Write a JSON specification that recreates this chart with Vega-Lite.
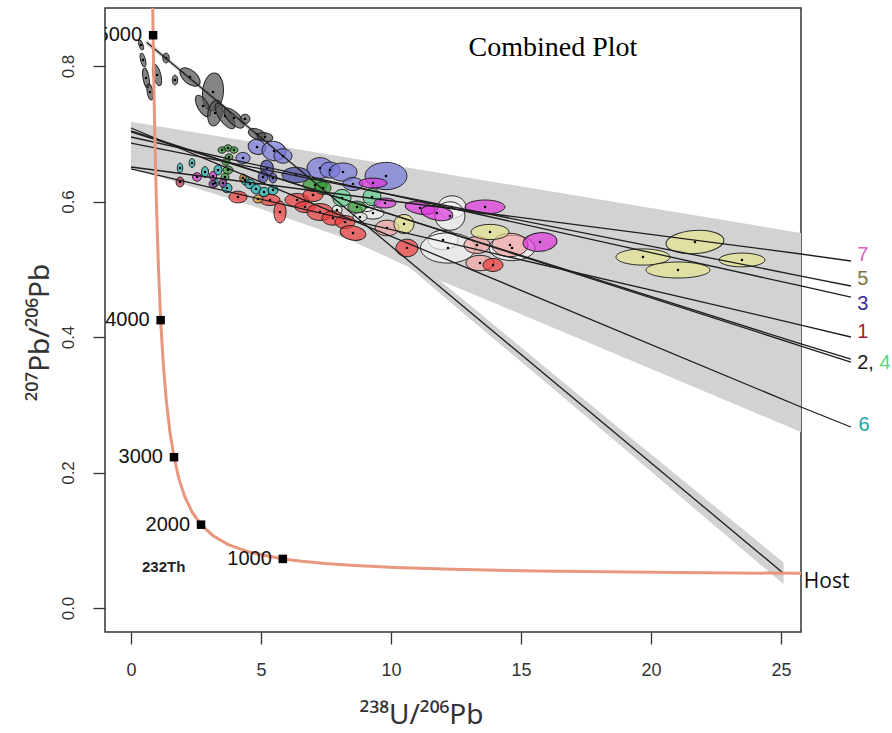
{
  "$schema": "https://vega.github.io/schema/vega-lite/v6.json",
  "autosize": "none",
  "width": 696,
  "height": 624,
  "padding": {"left": 105, "top": 8, "right": 91, "bottom": 101},
  "background": "white",
  "config": {"view": {"stroke": "#333333", "strokeWidth": 1.5}},
  "datasets": {
    "band": [
      {"x": 0, "y": 0.6494, "y2": 0.7178},
      {"x": 4.58, "y": 0.5948, "y2": 0.6886},
      {"x": 8.42, "y": 0.5432, "y2": 0.6641},
      {"x": 11.19, "y": 0.4945, "y2": 0.6465},
      {"x": 13.42, "y": 0.459, "y2": 0.6322},
      {"x": 19.19, "y": 0.3661, "y2": 0.5954},
      {"x": 25.77, "y": 0.2598, "y2": 0.5535}
    ],
    "sband": [
      {"x": 0.6, "y": 0.831, "y2": 0.839},
      {"x": 3, "y": 0.7552, "y2": 0.7612},
      {"x": 6, "y": 0.6572, "y2": 0.6672},
      {"x": 10, "y": 0.5262, "y2": 0.5422},
      {"x": 13, "y": 0.4282, "y2": 0.4482},
      {"x": 16, "y": 0.3312, "y2": 0.3532},
      {"x": 19, "y": 0.2342, "y2": 0.2582},
      {"x": 22, "y": 0.1362, "y2": 0.1642},
      {"x": 25.1, "y": 0.035, "y2": 0.067}
    ],
    "ell": [
      {"x": 7.923, "y": 0.5875, "g": "W", "s": 100, "r": "r95", "a": 0},
      {"x": 9.308, "y": 0.583, "g": "W", "s": 484, "r": "r55", "a": 0},
      {"x": 8.808, "y": 0.5771, "g": "W", "s": 196, "r": "r65", "a": 0},
      {"x": 12.346, "y": 0.5919, "g": "W", "s": 784, "r": "r8", "a": 0},
      {"x": 12.269, "y": 0.5786, "g": "W", "s": 900, "r": "r95", "a": 0},
      {"x": 12.0, "y": 0.5432, "g": "W", "s": 900, "r": "r65", "a": 0},
      {"x": 12.192, "y": 0.5314, "g": "W", "s": 3025, "r": "r55", "a": 0},
      {"x": 14.654, "y": 0.5314, "g": "W", "s": 2116, "r": "r55", "a": 0},
      {"x": 9.077, "y": 0.5919, "g": "W", "s": 196, "r": "r65", "a": 0},
      {"x": 9.846, "y": 0.5609, "g": "Pk", "s": 576, "r": "r65", "a": 0},
      {"x": 13.423, "y": 0.5092, "g": "Pk", "s": 784, "r": "r55", "a": 0},
      {"x": 14.577, "y": 0.5358, "g": "Pk", "s": 1296, "r": "r65", "a": 0},
      {"x": 13.308, "y": 0.5358, "g": "Pk", "s": 676, "r": "r65", "a": 0},
      {"x": 10.5, "y": 0.5668, "g": "Y", "s": 400, "r": "r95", "a": 0},
      {"x": 13.808, "y": 0.555, "g": "Y", "s": 1444, "r": "r4", "a": 0},
      {"x": 19.692, "y": 0.5181, "g": "Y", "s": 2916, "r": "r3", "a": 0},
      {"x": 21.038, "y": 0.4989, "g": "Y", "s": 4096, "r": "r25", "a": 0},
      {"x": 21.692, "y": 0.5402, "g": "Y", "s": 3364, "r": "r4", "a": -4},
      {"x": 23.5, "y": 0.5137, "g": "Y", "s": 2116, "r": "r3", "a": 0},
      {"x": 0.385, "y": 0.831, "g": "G", "s": 100, "r": "r4", "a": 70},
      {"x": 0.462, "y": 0.8089, "g": "G", "s": 196, "r": "r35", "a": 75},
      {"x": 0.577, "y": 0.7823, "g": "G", "s": 400, "r": "r3", "a": 80},
      {"x": 0.731, "y": 0.7616, "g": "G", "s": 256, "r": "r35", "a": 80},
      {"x": 1.0, "y": 0.7867, "g": "G", "s": 484, "r": "r35", "a": 75},
      {"x": 1.346, "y": 0.8118, "g": "G", "s": 100, "r": "r65", "a": 90},
      {"x": 1.692, "y": 0.7793, "g": "G", "s": 100, "r": "r55", "a": 90},
      {"x": 2.269, "y": 0.7838, "g": "G", "s": 576, "r": "r55", "a": 40},
      {"x": 3.154, "y": 0.7616, "g": "G", "s": 1444, "r": "r55", "a": 95},
      {"x": 2.769, "y": 0.741, "g": "G", "s": 576, "r": "r45", "a": 60},
      {"x": 3.231, "y": 0.7306, "g": "G", "s": 676, "r": "r55", "a": 100},
      {"x": 3.615, "y": 0.7262, "g": "G", "s": 900, "r": "r4", "a": 55},
      {"x": 3.962, "y": 0.7232, "g": "G", "s": 676, "r": "r45", "a": 45},
      {"x": 4.385, "y": 0.7218, "g": "G", "s": 100, "r": "r95", "a": 0},
      {"x": 4.846, "y": 0.6996, "g": "G", "s": 324, "r": "r55", "a": 20},
      {"x": 5.154, "y": 0.6952, "g": "G", "s": 256, "r": "r55", "a": 10},
      {"x": 4.308, "y": 0.6642, "g": "B", "s": 196, "r": "r8", "a": 0},
      {"x": 4.846, "y": 0.6804, "g": "B", "s": 324, "r": "r8", "a": 20},
      {"x": 5.5, "y": 0.6745, "g": "B", "s": 576, "r": "r8", "a": 10},
      {"x": 5.846, "y": 0.6672, "g": "B", "s": 324, "r": "r8", "a": 0},
      {"x": 7.269, "y": 0.6494, "g": "B", "s": 676, "r": "r8", "a": 0},
      {"x": 7.654, "y": 0.6465, "g": "B", "s": 400, "r": "r8", "a": 0},
      {"x": 8.154, "y": 0.6435, "g": "B", "s": 784, "r": "r65", "a": 0},
      {"x": 8.538, "y": 0.6258, "g": "B", "s": 400, "r": "r65", "a": 0},
      {"x": 9.808, "y": 0.6376, "g": "B", "s": 1764, "r": "r65", "a": 0},
      {"x": 5.231, "y": 0.6494, "g": "I", "s": 256, "r": "r8", "a": 80},
      {"x": 6.346, "y": 0.6391, "g": "I", "s": 784, "r": "r55", "a": 0},
      {"x": 5.077, "y": 0.6362, "g": "I", "s": 144, "r": "r8", "a": 90},
      {"x": 5.462, "y": 0.6347, "g": "I", "s": 100, "r": "r8", "a": 90},
      {"x": 4.115, "y": 0.6066, "g": "R", "s": 324, "r": "r65", "a": 0},
      {"x": 5.346, "y": 0.6022, "g": "R", "s": 400, "r": "r55", "a": 0},
      {"x": 5.731, "y": 0.5845, "g": "R", "s": 484, "r": "r55", "a": 90},
      {"x": 6.385, "y": 0.6022, "g": "R", "s": 576, "r": "r55", "a": 0},
      {"x": 6.692, "y": 0.5919, "g": "R", "s": 400, "r": "r55", "a": 0},
      {"x": 7.0, "y": 0.6096, "g": "R", "s": 400, "r": "r65", "a": 0},
      {"x": 7.269, "y": 0.5845, "g": "R", "s": 676, "r": "r65", "a": 0},
      {"x": 7.769, "y": 0.5756, "g": "R", "s": 484, "r": "r65", "a": 0},
      {"x": 8.231, "y": 0.5697, "g": "R", "s": 400, "r": "r65", "a": 0},
      {"x": 8.538, "y": 0.5535, "g": "R", "s": 676, "r": "r55", "a": 10},
      {"x": 10.615, "y": 0.5314, "g": "R", "s": 484, "r": "r8", "a": 0},
      {"x": 13.923, "y": 0.5063, "g": "R", "s": 400, "r": "r65", "a": 0},
      {"x": 3.5, "y": 0.676, "g": "Gr", "s": 64, "r": "r8", "a": 0},
      {"x": 3.731, "y": 0.679, "g": "Gr", "s": 64, "r": "r8", "a": 0},
      {"x": 3.962, "y": 0.676, "g": "Gr", "s": 64, "r": "r8", "a": 0},
      {"x": 3.769, "y": 0.6657, "g": "Gr", "s": 64, "r": "r8", "a": 0},
      {"x": 3.654, "y": 0.6583, "g": "Gr", "s": 64, "r": "r8", "a": 0},
      {"x": 3.731, "y": 0.6465, "g": "Gr", "s": 100, "r": "r8", "a": 0},
      {"x": 3.615, "y": 0.6362, "g": "Gr", "s": 64, "r": "r95", "a": 0},
      {"x": 7.077, "y": 0.6244, "g": "Gr", "s": 576, "r": "r55", "a": 0},
      {"x": 7.385, "y": 0.6199, "g": "Gr", "s": 256, "r": "r8", "a": 0},
      {"x": 8.692, "y": 0.5919, "g": "Gr", "s": 324, "r": "r65", "a": 0},
      {"x": 8.115, "y": 0.6052, "g": "M", "s": 324, "r": "r95", "a": 0},
      {"x": 9.269, "y": 0.6066, "g": "M", "s": 324, "r": "r95", "a": 0},
      {"x": 1.885, "y": 0.6494, "g": "T", "s": 100, "r": "r55", "a": 90},
      {"x": 2.346, "y": 0.6568, "g": "T", "s": 81, "r": "r65", "a": 90},
      {"x": 2.846, "y": 0.6435, "g": "T", "s": 121, "r": "r65", "a": 90},
      {"x": 3.346, "y": 0.6465, "g": "T", "s": 100, "r": "r8", "a": 90},
      {"x": 3.231, "y": 0.6273, "g": "T", "s": 64, "r": "r95", "a": 0},
      {"x": 3.692, "y": 0.6199, "g": "T", "s": 100, "r": "r95", "a": 0},
      {"x": 4.385, "y": 0.6317, "g": "T", "s": 100, "r": "r8", "a": 90},
      {"x": 4.577, "y": 0.6258, "g": "T", "s": 100, "r": "r95", "a": 0},
      {"x": 4.808, "y": 0.6185, "g": "T", "s": 100, "r": "r95", "a": 0},
      {"x": 5.115, "y": 0.614, "g": "T", "s": 100, "r": "r95", "a": 0},
      {"x": 5.462, "y": 0.617, "g": "T", "s": 100, "r": "r95", "a": 0},
      {"x": 2.538, "y": 0.6362, "g": "Mg", "s": 81, "r": "r95", "a": 0},
      {"x": 3.154, "y": 0.6376, "g": "Mg", "s": 81, "r": "r8", "a": 90},
      {"x": 9.308, "y": 0.6273, "g": "Mg", "s": 784, "r": "r35", "a": 0},
      {"x": 9.769, "y": 0.5978, "g": "Mg", "s": 484, "r": "r45", "a": 0},
      {"x": 11.115, "y": 0.5904, "g": "Mg", "s": 900, "r": "r4", "a": 10},
      {"x": 11.769, "y": 0.583, "g": "Mg", "s": 1024, "r": "r45", "a": 10},
      {"x": 13.615, "y": 0.5919, "g": "Mg", "s": 1600, "r": "r35", "a": 0},
      {"x": 15.731, "y": 0.5402, "g": "Mg", "s": 1156, "r": "r55", "a": -5},
      {"x": 3.154, "y": 0.6258, "g": "P", "s": 64, "r": "r95", "a": 0},
      {"x": 3.538, "y": 0.6273, "g": "P", "s": 81, "r": "r8", "a": 90},
      {"x": 1.885, "y": 0.6288, "g": "DR", "s": 100, "r": "r8", "a": 90},
      {"x": 4.308, "y": 0.6347, "g": "O", "s": 64, "r": "r8", "a": 90},
      {"x": 4.885, "y": 0.6037, "g": "O", "s": 100, "r": "r8", "a": 0}
    ],
    "lines": [
      {"id": "7", "x": 0, "y": 0.6509}, {"id": "7", "x": 25.77, "y": 0.5225}, {"id": "7", "x": 27.69, "y": 0.5122},
      {"id": "5", "x": 0, "y": 0.6863}, {"id": "5", "x": 25.77, "y": 0.49}, {"id": "5", "x": 27.69, "y": 0.4753},
      {"id": "3", "x": 0, "y": 0.6952}, {"id": "3", "x": 25.77, "y": 0.4753}, {"id": "3", "x": 27.69, "y": 0.459},
      {"id": "1", "x": 0, "y": 0.648}, {"id": "1", "x": 25.77, "y": 0.4177}, {"id": "1", "x": 27.69, "y": 0.4},
      {"id": "2", "x": 0, "y": 0.7026}, {"id": "2", "x": 25.77, "y": 0.3897}, {"id": "2", "x": 27.69, "y": 0.3675},
      {"id": "4", "x": 0, "y": 0.7041}, {"id": "4", "x": 25.77, "y": 0.3867}, {"id": "4", "x": 27.69, "y": 0.3631},
      {"id": "6", "x": 0, "y": 0.7085}, {"id": "6", "x": 25.77, "y": 0.2967}, {"id": "6", "x": 27.69, "y": 0.2672},
      {"id": "S", "x": 0.6, "y": 0.835}, {"id": "S", "x": 25.08, "y": 0.0517}
    ],
    "concordia": [
      {"t": 5100, "x": 0.8292, "y": 0.9071},
      {"t": 5000, "x": 0.85, "y": 0.8454},
      {"t": 4900, "x": 0.873, "y": 0.7879},
      {"t": 4800, "x": 0.898, "y": 0.7347},
      {"t": 4750, "x": 0.911, "y": 0.7094},
      {"t": 4500, "x": 0.979, "y": 0.5966},
      {"t": 4250, "x": 1.055, "y": 0.503},
      {"t": 4000, "x": 1.14, "y": 0.4249},
      {"t": 3750, "x": 1.242, "y": 0.36},
      {"t": 3500, "x": 1.359, "y": 0.3058},
      {"t": 3250, "x": 1.495, "y": 0.2606},
      {"t": 3000, "x": 1.654, "y": 0.2226},
      {"t": 2750, "x": 1.842, "y": 0.1909},
      {"t": 2500, "x": 2.069, "y": 0.1643},
      {"t": 2250, "x": 2.346, "y": 0.1419},
      {"t": 2000, "x": 2.694, "y": 0.123},
      {"t": 1750, "x": 3.142, "y": 0.1071},
      {"t": 1500, "x": 3.74, "y": 0.0936},
      {"t": 1250, "x": 4.58, "y": 0.0822},
      {"t": 1000, "x": 5.84, "y": 0.0725},
      {"t": 900, "x": 6.56, "y": 0.06905},
      {"t": 800, "x": 7.46, "y": 0.0658},
      {"t": 700, "x": 8.63, "y": 0.06276},
      {"t": 600, "x": 10.18, "y": 0.0599},
      {"t": 500, "x": 12.35, "y": 0.05722},
      {"t": 400, "x": 15.6, "y": 0.0547},
      {"t": 300, "x": 20.99, "y": 0.0523},
      {"t": 240, "x": 26.363, "y": 0.051}
    ],
    "ages": [
      {"label": "5000", "x": 0.85, "y": 0.8454},
      {"label": "4000", "x": 1.14, "y": 0.4249},
      {"label": "3000", "x": 1.654, "y": 0.2226},
      {"label": "2000", "x": 2.694, "y": 0.123},
      {"label": "1000", "x": 5.84, "y": 0.0725}
    ],
    "tags": [
      {"label": "7", "x": 28.15, "y": 0.521, "c": "#e060c8"},
      {"label": "5", "x": 28.15, "y": 0.4856, "c": "#7d7240"},
      {"label": "3", "x": 28.15, "y": 0.4487, "c": "#3b2c92"},
      {"label": "1", "x": 28.15, "y": 0.4074, "c": "#a3192f"},
      {"label": "2,", "x": 28.25, "y": 0.3616, "c": "#1a1a1a"},
      {"label": "4", "x": 29.0, "y": 0.3616, "c": "#55d67a"},
      {"label": "6", "x": 28.2, "y": 0.2701, "c": "#1fa3a0"}
    ]
  },
  "encoding": {
    "x": {
      "field": "x", "type": "quantitative",
      "scale": {"domain": [-1.0, 25.77], "nice": false, "zero": false},
      "axis": {
        "title": "²³⁸U/²⁰⁶Pb", "values": [0, 5, 10, 15, 20, 25], "domain": false, "grid": false,
        "tickSize": 12, "tickColor": "#333333", "tickWidth": 1.3,
        "labelFont": "Liberation Sans Narrow, Liberation Sans", "labelFontSize": 18, "labelColor": "#333333", "labelPadding": 17,
        "titleFont": "Noto Sans", "titleFontSize": 28, "titleFontWeight": "normal", "titleColor": "#333333",
        "titleX": 316, "titleY": 91, "titleAlign": "center", "titleBaseline": "alphabetic"
      }
    },
    "y": {
      "field": "y", "type": "quantitative",
      "scale": {"domain": [-0.0354, 0.8856], "nice": false, "zero": false},
      "axis": {
        "title": "²⁰⁷Pb/²⁰⁶Pb", "values": [0, 0.2, 0.4, 0.6, 0.8], "format": ".1f", "domain": false, "grid": false,
        "tickSize": 12, "tickColor": "#333333", "tickWidth": 1.3,
        "labelFont": "Liberation Sans", "labelFontSize": 17, "labelColor": "#333333", "labelPadding": 20,
        "labelAngle": 270, "labelAlign": "center", "labelBaseline": "alphabetic",
        "titleFont": "Noto Sans", "titleFontSize": 28, "titleFontWeight": "normal", "titleColor": "#333333",
        "titleAngle": 270, "titleX": -57, "titleY": 324, "titleAlign": "center", "titleBaseline": "alphabetic"
      }
    }
  },
  "layer": [
    {
      "data": {"name": "band"},
      "mark": {"type": "area", "color": "#d2d2d2", "opacity": 1},
      "encoding": {"y2": {"field": "y2"}}
    },
    {
      "data": {"name": "sband"},
      "mark": {"type": "area", "color": "#d2d2d2", "opacity": 1, "clip": true},
      "encoding": {"y2": {"field": "y2"}}
    },
    {
      "data": {"name": "ell"},
      "mark": {"type": "point", "filled": true, "fillOpacity": 0.7, "stroke": "#1a1a1a", "strokeWidth": 1, "strokeOpacity": 0.9},
      "encoding": {
        "color": {"field": "g", "type": "nominal", "legend": null,
          "scale": {"domain": ["G", "B", "I", "Gr", "M", "T", "Mg", "P", "DR", "O", "R", "Pk", "W", "Y"],
                    "range": ["#505050", "#7878d8", "#4646a8", "#2f9a2f", "#5ccf8e", "#1fb2b2", "#de34de", "#8a3c9c", "#b03048", "#e39a2c", "#ee3c3c", "#f3a5a5", "#f2f2f2", "#e6e690"]}},
        "shape": {"field": "r", "type": "nominal", "legend": null,
          "scale": {"domain": ["r25", "r3", "r35", "r4", "r45", "r55", "r65", "r8", "r95"],
                    "range": [
                      "M-1,0A1,0.25,0,1,1,1,0A1,0.25,0,1,1,-1,0Z",
                      "M-1,0A1,0.3,0,1,1,1,0A1,0.3,0,1,1,-1,0Z",
                      "M-1,0A1,0.35,0,1,1,1,0A1,0.35,0,1,1,-1,0Z",
                      "M-1,0A1,0.4,0,1,1,1,0A1,0.4,0,1,1,-1,0Z",
                      "M-1,0A1,0.45,0,1,1,1,0A1,0.45,0,1,1,-1,0Z",
                      "M-1,0A1,0.55,0,1,1,1,0A1,0.55,0,1,1,-1,0Z",
                      "M-1,0A1,0.65,0,1,1,1,0A1,0.65,0,1,1,-1,0Z",
                      "M-1,0A1,0.8,0,1,1,1,0A1,0.8,0,1,1,-1,0Z",
                      "M-1,0A1,0.95,0,1,1,1,0A1,0.95,0,1,1,-1,0Z"
                    ]}},
        "size": {"field": "s", "type": "quantitative", "scale": null},
        "angle": {"field": "a", "type": "quantitative", "scale": null}
      }
    },
    {
      "data": {"name": "ell"},
      "mark": {"type": "point", "shape": "square", "filled": true, "color": "#000000", "size": 5, "opacity": 1}
    },
    {
      "data": {"name": "lines"},
      "mark": {"type": "line", "color": "#1e1e1e", "strokeWidth": 1.3, "clip": false},
      "encoding": {"detail": {"field": "id", "type": "nominal"}}
    },
    {
      "data": {"name": "concordia"},
      "mark": {"type": "line", "color": "#e8977f", "strokeWidth": 3, "clip": true},
      "encoding": {"order": {"field": "t", "type": "quantitative", "sort": "descending"}}
    },
    {
      "data": {"name": "ages"},
      "mark": {"type": "point", "shape": "square", "filled": true, "color": "#000000", "size": 72, "opacity": 1}
    },
    {
      "data": {"name": "ages"},
      "mark": {"type": "text", "align": "right", "baseline": "middle", "dx": -11, "font": "Liberation Sans", "fontSize": 20, "color": "#111111", "clip": true},
      "encoding": {"text": {"field": "label"}}
    },
    {
      "data": {"values": [{"x": 0.423, "y": 0.0598, "label": "232Th"}]},
      "mark": {"type": "text", "align": "left", "baseline": "middle", "font": "Liberation Sans", "fontSize": 15, "fontWeight": "bold", "color": "#222222"},
      "encoding": {"text": {"field": "label"}}
    },
    {
      "data": {"values": [{"x": 16.23, "y": 0.8266, "label": "Combined Plot"}]},
      "mark": {"type": "text", "align": "center", "baseline": "middle", "font": "Liberation Serif", "fontSize": 28, "color": "#000000"},
      "encoding": {"text": {"field": "label"}}
    },
    {
      "data": {"name": "tags"},
      "mark": {"type": "text", "align": "center", "baseline": "middle", "font": "Liberation Sans", "fontSize": 20, "clip": false},
      "encoding": {
        "text": {"field": "label"},
        "color": {"field": "c", "type": "nominal", "scale": null}
      }
    },
    {
      "data": {"values": [{"x": 25.88, "y": 0.0384, "label": "Host"}]},
      "mark": {"type": "text", "align": "left", "baseline": "middle", "font": "Open Sans", "fontSize": 21, "color": "#111111", "clip": false},
      "encoding": {"text": {"field": "label"}}
    }
  ]
}
